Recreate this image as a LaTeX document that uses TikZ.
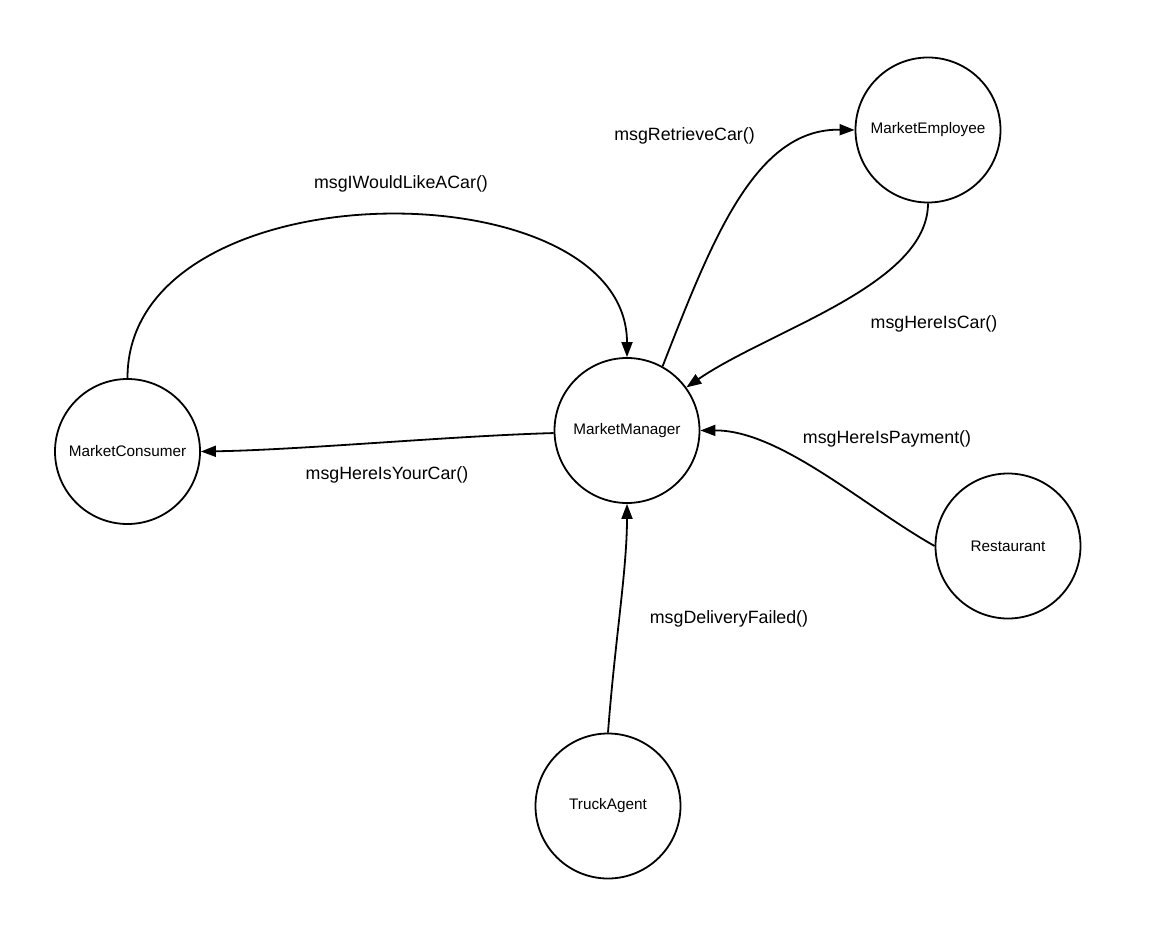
\documentclass[tikz,border=0pt]{standalone}
\usepackage{fontspec}
\setmainfont{Liberation Sans}
\usetikzlibrary{arrows.meta}
\begin{document}
\begin{tikzpicture}[x=1pt,y=-1pt,
  agent/.style={circle,draw,line width=1.8pt,minimum size=145pt,inner sep=0pt,
    font=\fontsize{15.3}{18}\selectfont},
  msg/.style={font=\fontsize{17.8}{21}\selectfont,inner sep=0pt},
  conn/.style={line width=1.8pt,-{Triangle[length=15pt,width=11pt]}}]
\useasboundingbox (0,0) rectangle (1171,944);
\node[agent] (ME) at (928,130) {MarketEmployee};
\node[agent] (MM) at (627,430.5) {MarketManager};
\node[agent] (MC) at (127.5,451.5) {MarketConsumer};
\node[agent] (RE) at (1008,546) {Restaurant};
\node[agent] (TA) at (608,806) {TruckAgent};

\draw[conn] (MC.north) .. controls (127,165) and (627,165) .. (MM.north);
\draw[conn] (MM.61) .. controls (712,240) and (755,128) .. (ME.west);
\draw[conn] (ME.south) .. controls (928,285) and (770,330) .. (MM.36);
\draw[conn] (MM.182) .. controls (450,436) and (300,450) .. (MC.east);
\draw[conn] (RE.west) .. controls (865,507) and (780,430) .. (MM.east);
\draw[conn] (TA.north) .. controls (615,640) and (627,570) .. (MM.south);

\node[msg] (l1) at (401,184) {msgIWouldLikeACar()};
\node[msg] (l2) at (684.5,136) {msgRetrieveCar()};
\node[msg] (l3) at (934,324) {msgHereIsCar()};
\node[msg] (l4) at (387,475) {msgHereIsYourCar()};
\node[msg] (l5) at (887,439) {msgHereIsPayment()};
\node[msg] (l6) at (729,619) {msgDeliveryFailed()};
\end{tikzpicture}
\end{document}
